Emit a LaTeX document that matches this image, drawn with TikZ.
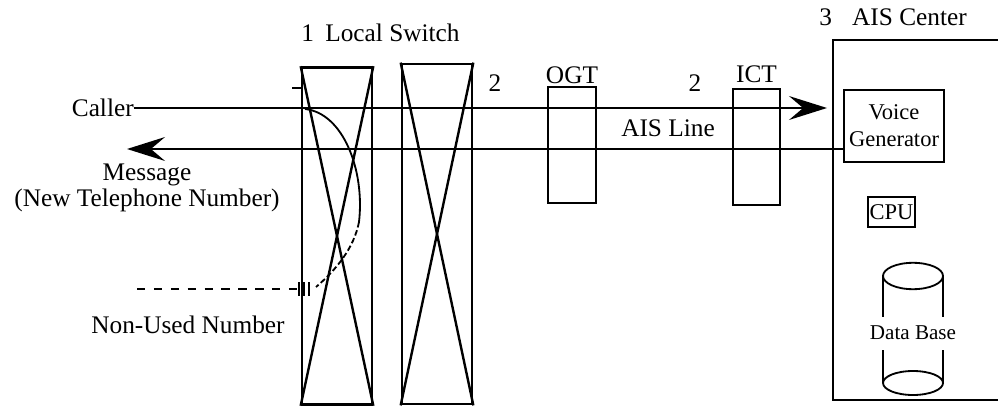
\documentclass[tikz,border=0pt]{standalone}
\usepackage{fontspec}
\setmainfont{Liberation Serif}
\usetikzlibrary{arrows.meta,positioning}

\begin{document}
\begin{tikzpicture}[x=0.025cm, y=-0.025cm,
box/.style={draw, line width=1.9pt, inner sep=0pt, align=center, font=\fontsize{16}{19}\selectfont},
link/.style={line width=1.3pt},
cross/.style={line width=1.7pt},
lbl/.style={inner sep=0pt, align=center, font=\fontsize{18}{18}\selectfont},
bigarrow/.style={link, -{Stealth[length=27pt, width=17pt, inset=10pt]}}
]
\useasboundingbox (0,0) rectangle (998,406);

% Local switch, two stages
\node[box, minimum width=1.75cm, minimum height=8.42cm] (sw1) at (337,236) {};
\node[box, minimum width=1.75cm, minimum height=8.5cm] (sw2) at (437,234) {};
\foreach \s in {sw1,sw2} {
  \draw[cross] (\s.north west) -- (\s.south east);
  \draw[cross] (\s.north east) -- (\s.south west);
}
\node[lbl, anchor=west] (swlbl) at (301,33) {1\hspace{0.45em}Local Switch};

% Trunks
\node[box, minimum width=1.2cm, minimum height=2.9cm] (ogt) at (572,145) {};
\node[box, minimum width=1.175cm, minimum height=2.9cm] (ict) at (756.5,147) {};
\node[lbl, above=1pt of ogt] (ogtlbl) {OGT};
\node[lbl, above=3pt of ict] (ictlbl) {ICT};
\node[lbl] (num1) at (495,83) {2};
\node[lbl] (num2) at (695,83) {2};
\node[lbl] (aisline) at (668,128) {AIS Line};

% AIS center
\draw[line width=1.9pt] (998,40) -| (833,400) -- (998,400);
\node[lbl, anchor=west] (aislbl) at (819,17) {3\hspace{0.8em}AIS Center};
\node[box, minimum width=2.5cm, minimum height=1.8cm] (vg) at (894,126) {Voice\\Generator};
\node[box, minimum width=1.175cm, minimum height=0.75cm] (cpu) at (891.5,212) {CPU};

% Data base cylinder
\draw[link] (913,276) ellipse [x radius=0.75cm, y radius=0.33cm];
\draw[link] (913,383) ellipse [x radius=0.75cm, y radius=0.3cm];
\draw[link] (883,276) -- (883,317) (943,276) -- (943,317);
\draw[link] (883,350) -- (883,383) (943,350) -- (943,383);
\node[lbl, font=\fontsize{15}{17}\selectfont] (db) at (913,333) {Data Base};

% Caller and message lines
\node[lbl, anchor=east] (caller) at (134,108) {Caller};
\coordinate (callEnd) at (827,108);
\coordinate (msgEnd) at (127,149);
\draw[bigarrow] (caller.east) -- (callEnd);
\draw[bigarrow] (vg.west |- msgEnd) -- (msgEnd);
\node[lbl] (msg) at (147,188) {Message\\(New Telephone Number)};

% Non-used number
\node[lbl] (nonused) at (188,325) {Non-Used Number};
\coordinate (nuStart) at (137,289);
\coordinate (hatch) at (297,289);
\draw[link, dash pattern=on 6pt off 6pt] (nuStart) -- (hatch);
\foreach \x in {299,304,309} \draw[line width=0.8pt] (\x,282) -- (\x,296);

% Interception path
\coordinate (stub) at (292,88);
\draw[link] (stub) -- (stub -| sw1.west);
\coordinate (cA) at (305,109);
\coordinate (cB) at (359,222);
\coordinate (cC) at (316,287);
\draw[link] (cA) .. controls (343,113) and (365,170) .. (cB);
\draw[link, dash pattern=on 4pt off 2pt] (cB) .. controls (354,248) and (336,270) .. (cC);

\end{tikzpicture}
\end{document}
